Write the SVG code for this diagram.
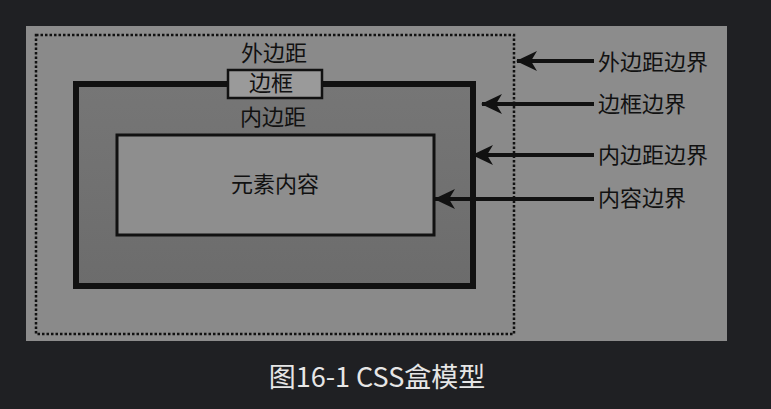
<svg xmlns="http://www.w3.org/2000/svg" width="771" height="409" viewBox="0 0 771 409">
<style>
.lbl{font-family:"Noto Sans CJK SC","Liberation Sans",sans-serif;font-size:22px;fill:#111}
.conn line{stroke:#111;stroke-width:4}
</style>
<defs>
<marker id="ah" viewBox="0 0 22 20" refX="21" refY="10" markerWidth="22" markerHeight="20" markerUnits="userSpaceOnUse" orient="auto">
<path d="M22,10 L1,0 L7,10 L1,20 Z" fill="#111"/>
</marker>
<linearGradient id="pad" x1="0" y1="0" x2="0" y2="1">
<stop offset="0" stop-color="#767676"/>
<stop offset="1" stop-color="#6c6c6c"/>
</linearGradient>
</defs>
<rect width="771" height="409" fill="#1f2023"/>
<rect id="panel" x="26" y="26" width="701" height="315" fill="#8c8c8c"/>
<g id="margin">
<rect x="36" y="35" width="478" height="299" fill="#8a8a8a" stroke="#111" stroke-width="2.5" stroke-dasharray="2.5,2"/>
<text class="lbl" x="274" y="61" text-anchor="middle">外边距</text>
</g>
<g id="border">
<rect x="76" y="84" width="397" height="202" fill="url(#pad)" stroke="#111" stroke-width="6"/>
</g>
<g id="border-label">
<rect x="228" y="70" width="94" height="28" fill="#9a9a9a" stroke="#111" stroke-width="2.5"/>
<text class="lbl" x="271" y="91" text-anchor="middle">边框</text>
</g>
<g id="padding">
<text class="lbl" x="273" y="125" text-anchor="middle">内边距</text>
</g>
<g id="content">
<rect x="117" y="135" width="317" height="100" fill="#8e8e8e" stroke="#111" stroke-width="3"/>
<text class="lbl" x="275" y="192" text-anchor="middle">元素内容</text>
</g>
<g class="conn" id="connectors">
<line x1="594" y1="61" x2="517" y2="61" marker-end="url(#ah)"/>
<line x1="594" y1="104" x2="482" y2="104" marker-end="url(#ah)"/>
<line x1="594" y1="155" x2="473" y2="155" marker-end="url(#ah)"/>
<line x1="594" y1="199" x2="435" y2="199" marker-end="url(#ah)"/>
</g>
<g id="labels">
<text class="lbl" x="598" y="70">外边距边界</text>
<text class="lbl" x="598" y="112">边框边界</text>
<text class="lbl" x="598" y="163">内边距边界</text>
<text class="lbl" x="598" y="206">内容边界</text>
</g>
<text id="caption" x="377" y="387" text-anchor="middle" font-family="Noto Sans CJK SC, Liberation Sans, sans-serif" font-size="27" fill="#e6e6e6">图16-1 CSS盒模型</text>
</svg>
